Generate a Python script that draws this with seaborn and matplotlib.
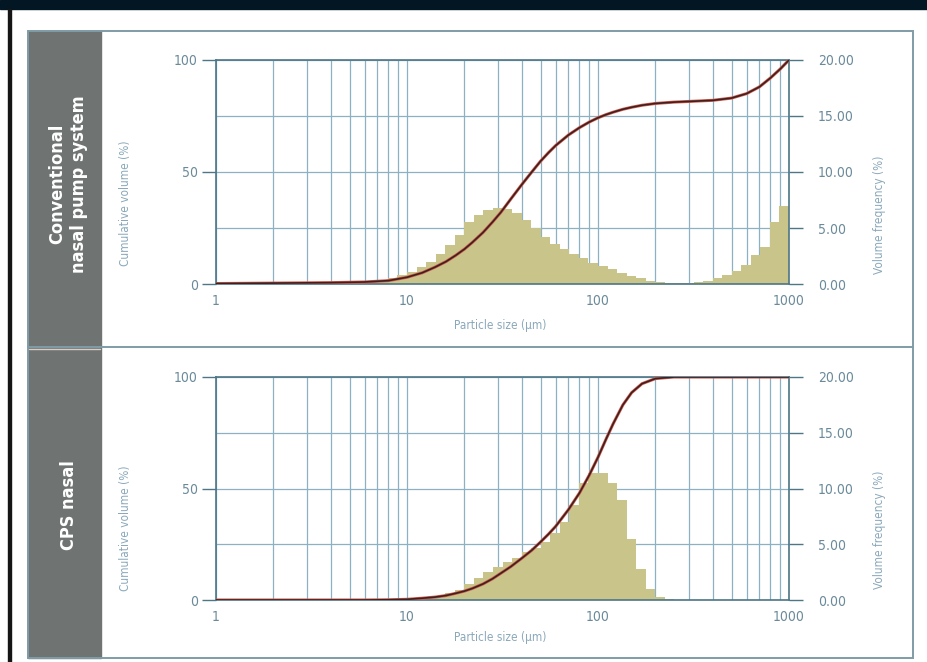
import numpy as np
import matplotlib
matplotlib.use('Agg')
import matplotlib.pyplot as plt
from matplotlib.patches import Rectangle
from matplotlib.lines import Line2D
from matplotlib.ticker import LogLocator, NullFormatter
import seaborn as sns

# --- data ---
panel_titles = ['Conventional\nnasal pump system', 'CPS nasal']
bins_per_decade = 20  # 60 log bins from 1 to 1000 um

# volume frequency (%) per bin
freq_conventional = [0] * 13 + [
    0.02, 0.05, 0.1, 0.2, 0.35, 0.55, 0.8, 1.1, 1.5, 2.0,
    2.7, 3.5, 4.4, 5.5, 6.2, 6.6, 6.8, 6.7, 6.3, 5.7,
    5.0, 4.2, 3.6, 3.1, 2.7, 2.3, 1.9, 1.6, 1.3, 1.0,
    0.75, 0.5, 0.3, 0.2, 0.1, 0.05, 0.08, 0.15, 0.3, 0.5,
    0.8, 1.2, 1.7, 2.6, 3.3, 5.5, 7.0]
freq_cps = [0] * 19 + [
    0.03, 0.05, 0.1, 0.2, 0.35, 0.6, 0.9, 1.4, 2.0, 2.5,
    3.0, 3.4, 3.8, 4.3, 4.7, 5.2, 6.0, 7.0, 8.5, 10.5,
    11.4, 11.4, 10.5, 9.0, 5.5, 2.8, 1.0, 0.3, 0.1] + [0] * 12

# cumulative volume (%) at particle sizes (um)
sizes = [1, 2, 4, 6, 8, 10, 12, 14, 16, 18, 20, 22, 25, 28, 31, 35, 40, 45,
         50, 55, 60, 70, 80, 90, 100, 110, 120, 135, 150, 170, 200, 250, 300,
         400, 500, 600, 700, 800, 900, 1000]
cum_conventional = [0.2, 0.4, 0.6, 0.9, 1.5, 3.0, 5.0, 7.5, 10, 12.8, 15.6,
                    18.6, 23, 27.6, 32, 38, 44.5, 50, 54.8, 58.6, 61.8, 66.5,
                    69.8, 72.3, 74.2, 75.6, 76.7, 78, 78.9, 79.8, 80.6, 81.2,
                    81.5, 82, 83, 85, 88, 92, 96, 100]
cum_cps = [0, 0, 0, 0, 0.1, 0.3, 0.8, 1.3, 2.0, 3.0, 4.0, 5.2, 7.2, 9.5, 12,
           15, 18.8, 22.3, 26, 29.5, 33, 40.5, 48, 56, 64, 72, 79, 87.5, 93,
           97, 99.3, 100, 100, 100, 100, 100, 100, 100, 100, 100]

x_ticks = [1, 10, 100, 1000]
cum_ticks = [0, 50, 100]
freq_ticks = [0, 5, 10, 15, 20]

all_freq = [freq_conventional, freq_cps]
all_cum = [cum_conventional, cum_cps]

# --- style ---
sns.set_theme(style='white')
plt.rcParams['font.family'] = ['DejaVu Sans']
plt.rcParams['font.stretch'] = 'condensed'

W, H = 927, 662
fig = plt.figure(figsize=(W / 100, H / 100), dpi=100)


def fx(px):
    return px / W


def fy(py):
    return 1 - py / H


bar_color = '#c9c48a'
grid_color = '#8db0c3'
spine_color = '#4d7686'
tick_color = '#6a8a9a'
label_color = '#8aa8ba'
frame_color = '#7e9ca7'

# page decorations
fig.patches.append(Rectangle((0, fy(9)), 1, 9 / H, transform=fig.transFigure,
                             color='#021624', zorder=0))
fig.patches.append(Rectangle((fx(8), 0), 3 / W, fy(9), transform=fig.transFigure,
                             color='#151515', zorder=0))
fig.patches.append(Rectangle((fx(28), fy(658)), 73 / W, 627 / H,
                             transform=fig.transFigure, color='#6f7472', zorder=0))
fig.patches.append(Rectangle((fx(28), fy(658)), 885 / W, 627 / H,
                             transform=fig.transFigure, fill=False,
                             edgecolor=frame_color, lw=1.4, zorder=1))
fig.lines.append(Line2D([fx(28), fx(913)], [fy(347), fy(347)],
                        transform=fig.transFigure, color=frame_color, lw=1.4))
fig.lines.append(Line2D([fx(29), fx(100)], [fy(349), fy(349)],
                        transform=fig.transFigure, color='#d8cdc6', lw=1))

tops, bottoms = [60, 377], [284, 600]
title_pos = [(68, 184), (69, 505)]
cum_label_y = [203, 528]
freq_label_y = [215, 530]
xlabel_y = [325, 637]

for k in range(2):
    ax = fig.add_axes([fx(216), fy(bottoms[k]), (789 - 216) / W,
                       (bottoms[k] - tops[k]) / H])
    n_bins = len(all_freq[k])
    centers = 10 ** ((np.arange(n_bins) + 0.5) / bins_per_decade)
    sns.histplot(x=centers, weights=all_freq[k], bins=n_bins,
                 binrange=(0, n_bins / bins_per_decade), log_scale=True,
                 element='step', fill=True, color=bar_color, alpha=1,
                 linewidth=0, ax=ax)
    ax.set_xlim(1, 1000)
    ax.set_ylim(0, 20)
    ax.set_xlabel('')
    ax.set_ylabel('')
    ax.set_axisbelow(True)
    ax.xaxis.set_minor_locator(LogLocator(base=10, subs=np.arange(2, 10)))
    ax.xaxis.set_minor_formatter(NullFormatter())
    ax.set_xticks(x_ticks)
    ax.set_xticklabels([str(t) for t in x_ticks])
    ax.grid(True, which='both', axis='x', color=grid_color, lw=0.9)
    ax.grid(True, which='major', axis='y', color=grid_color, lw=0.9)
    ax.tick_params(axis='x', which='both', length=0, pad=7,
                   labelsize=10, labelcolor=tick_color)
    for s in ax.spines.values():
        s.set_color(spine_color)
        s.set_linewidth(1.2)

    ax2 = ax.twinx()
    sns.lineplot(x=sizes, y=all_cum[k], ax=ax2, color='#d85a4a', lw=2.2)
    sns.lineplot(x=sizes, y=all_cum[k], ax=ax2, color='#3a2222', lw=1.2)
    ax2.set_ylim(0, 100)
    ax2.set_xlim(1, 1000)
    ax2.set_ylabel('')
    ax2.set_yticks(cum_ticks)
    ax2.set_yticklabels([str(t) for t in cum_ticks])
    ax2.yaxis.tick_left()
    ax2.tick_params(axis='y', direction='out', length=10, width=1,
                    color=spine_color, pad=3, labelsize=10,
                    labelcolor=tick_color)
    for s in ax2.spines.values():
        s.set_visible(False)

    # frequency scale goes on the right side of the host axes
    ax.yaxis.tick_right()
    ax.set_yticks(freq_ticks)
    ax.set_yticklabels([f'{t:.2f}' for t in freq_ticks])
    ax.tick_params(axis='y', direction='out', length=10, width=1,
                   color=spine_color, pad=11, labelsize=10,
                   labelcolor=tick_color)

    fig.text(fx(title_pos[k][0]), fy(title_pos[k][1]), panel_titles[k],
             rotation=90, ha='center', va='center', color='white',
             fontsize=13, fontweight='bold', linespacing=1.3)
    fig.text(fx(125), fy(cum_label_y[k]), 'Cumulative volume (%)', rotation=90,
             ha='center', va='center', color=label_color, fontsize=8.5)
    fig.text(fx(880), fy(freq_label_y[k]), 'Volume frequency (%)', rotation=90,
             ha='center', va='center', color=label_color, fontsize=8.5)
    fig.text(fx(500), fy(xlabel_y[k]), 'Particle size (\u03bcm)',
             ha='center', va='center', color=label_color, fontsize=8.5)

fig.savefig('out.png', dpi=100)
